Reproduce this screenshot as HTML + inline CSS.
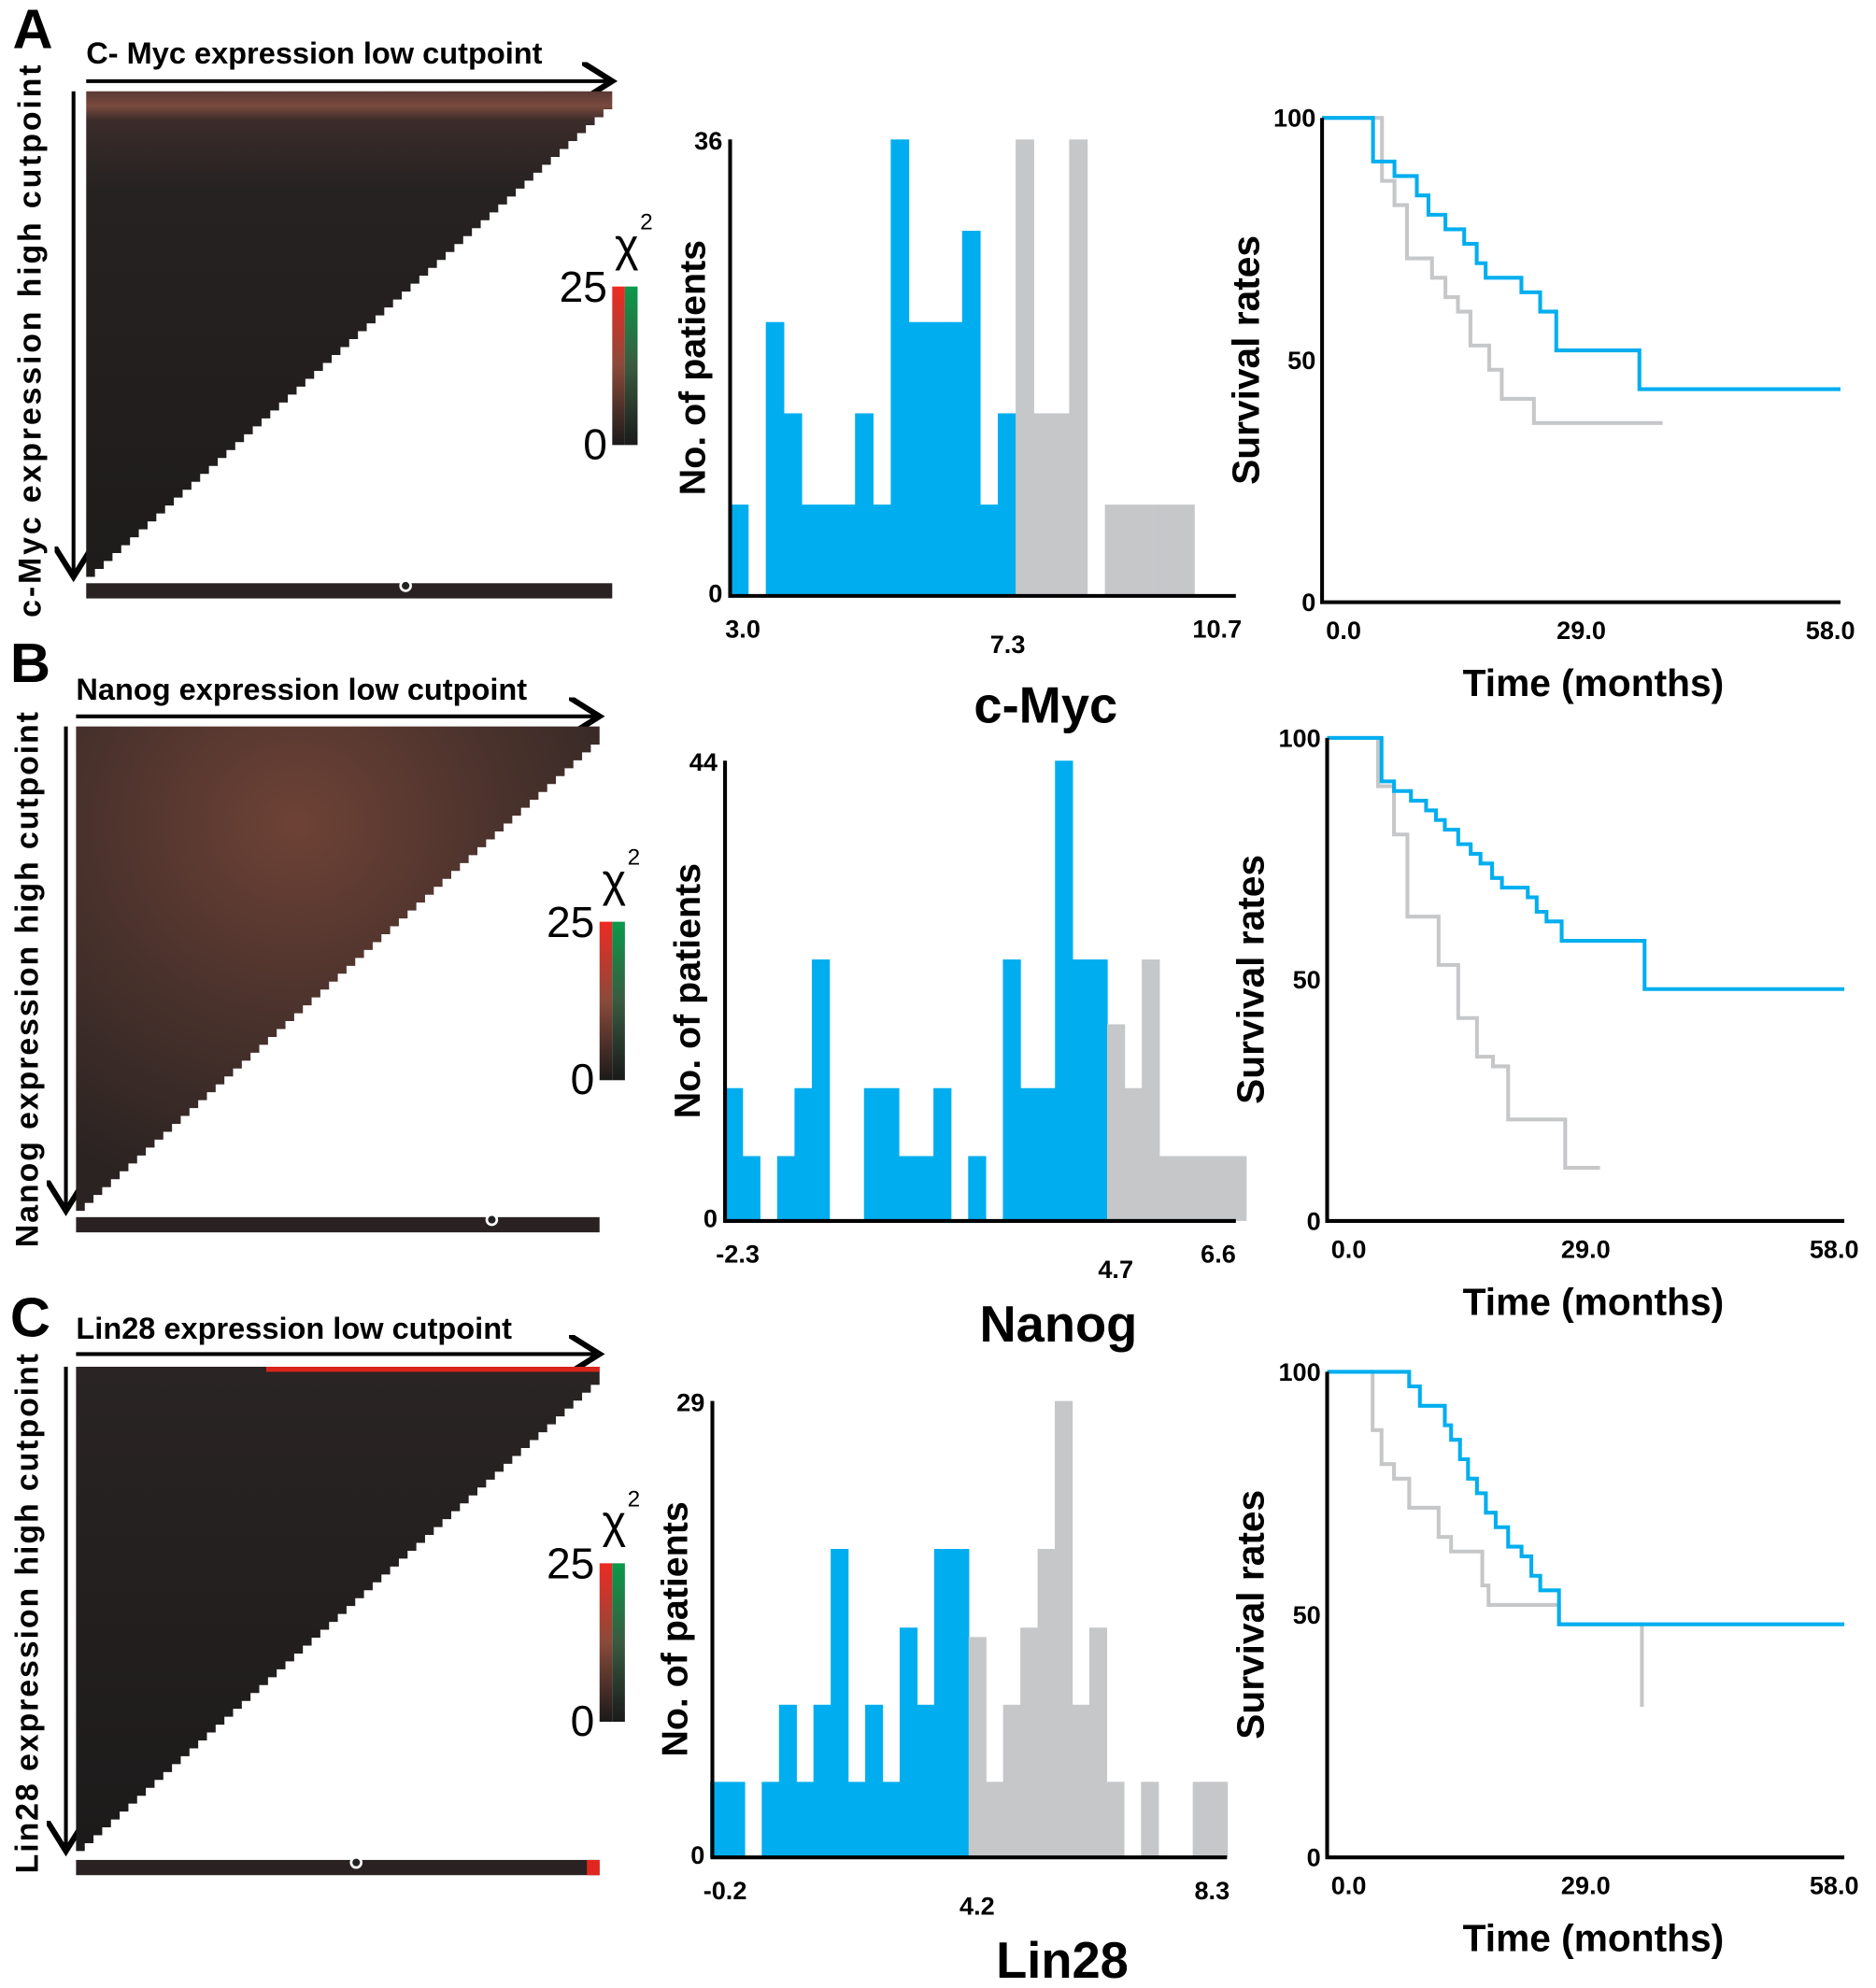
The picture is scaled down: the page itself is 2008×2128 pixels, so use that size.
<!DOCTYPE html>
<html><head><meta charset="utf-8"><style>
html,body{margin:0;padding:0;background:#fff;}
svg{display:block;}
text{font-family:"Liberation Sans",Arial,sans-serif;}
</style></head><body>
<svg id="fig" xmlns="http://www.w3.org/2000/svg" width="2008" height="2128" viewBox="0 0 1480 1568" preserveAspectRatio="none">
<defs>
<linearGradient id="gA" x1="0" y1="0" x2="0" y2="1"><stop offset="0" stop-color="#5a3a34"/><stop offset="0.03" stop-color="#7a4a3e"/><stop offset="0.06" stop-color="#3a2c2a"/><stop offset="0.2" stop-color="#272222"/><stop offset="1" stop-color="#1e1b1b"/></linearGradient>
<radialGradient id="gB" cx="0.42" cy="0.2" r="0.8"><stop offset="0" stop-color="#6e4236"/><stop offset="0.5" stop-color="#4a322c"/><stop offset="1" stop-color="#2a2322"/></radialGradient>
<linearGradient id="gC" x1="0" y1="0" x2="0" y2="1"><stop offset="0" stop-color="#2a2424"/><stop offset="1" stop-color="#1c1a1a"/></linearGradient>
<linearGradient id="cbR" x1="0" y1="0" x2="0" y2="1"><stop offset="0" stop-color="#ee2a24"/><stop offset="0.5" stop-color="#8a4a3a"/><stop offset="1" stop-color="#1a1a1a"/></linearGradient>
<linearGradient id="cbG" x1="0" y1="0" x2="0" y2="1"><stop offset="0" stop-color="#0a9a4a"/><stop offset="0.5" stop-color="#3a5a40"/><stop offset="1" stop-color="#1a1a1a"/></linearGradient>
<marker id="arr" markerWidth="10" markerHeight="10" refX="8" refY="5" orient="auto"><path d="M0,0 L8,5 L0,10" fill="none" stroke="#000" stroke-width="1.5"/></marker>
</defs>
<g id="static"></g>
</svg>
<script>
// ---------- DATA ----------
const histACounts=[7.2,0,21.6,14.4,7.2,7.2,7.2,14.4,7.2,36,21.6,21.6,21.6,28.8,7.2,14.4,36,14.4,14.4,36,0,7.2,7.2,7.2,7.2,7.2];
const histATicks=["3.0","7.3","10.7"];
const histATickVals=[3.0,7.3,10.7];
const histBCounts=[12.7,6.2,0,6.2,12.7,25,0,0,12.7,12.7,6.2,6.2,12.7,0,6.2,0,25,12.7,12.7,44,25,25,18.8,12.7,25,6.2,6.2,6.2,6.2,6.2];
const histBTicks=["-2.3","4.7","6.6"];
const histBTickVals=[-2.3,4.7,6.6];
const histCCounts=[4.8,4.8,0,4.8,9.7,4.8,9.7,19.6,4.8,9.7,4.8,14.6,9.7,19.6,19.6,14,4.8,9.7,14.6,19.6,29,9.7,14.6,4.8,0,4.8,0,0,4.8,4.8];
const histCTicks=["-0.2","4.2","8.3"];
const histCTickVals=[-0.2,4.2,8.3];
const kmABlueT=[0,5.7,8.1,10.6,11.9,13.8,15.9,17.3,18.3,22.3,24.4,26.2,35.5,58];
const kmABlueS=[100,91,88,84,80,77,74,70,67,64,60,52,44,44];
const kmAGrayT=[0,6.7,8.1,9.5,12.3,13.8,15.2,16.6,18.7,20.1,23.7,38.1];
const kmAGrayS=[100,87,82,71,67,63,60,53,48,42,37,37];
const kmBBlueT=[0,6.1,7.5,9.4,11.1,12.2,13.2,14.7,16.1,17.2,18.5,19.6,22.5,23.5,24.6,26.3,35.6,58];
const kmBBlueS=[100,91,89,87,85,83,81,78,76,74,71,69,67,64,62,58,48,48];
const kmBGrayT=[0,5.7,7.5,9.0,12.5,14.7,16.8,18.6,20.3,26.7,30.6];
const kmBGrayS=[100,90,80,63,53,42,34,32,21,11,11];
const kmCBlueT=[0,9.2,10.4,13.2,13.9,14.9,15.8,16.8,17.8,18.9,20.3,21.8,22.9,23.9,26.0,58];
const kmCBlueS=[100,97,93,89,86,82,78,75,71,68,64,62,58,55,48,48];
const kmCGrayT=[0,5.1,6.1,7.5,9.2,12.5,13.9,17.4,18.1,26.0,35.3];
const kmCGrayS=[100,88,81,78,72,66,63,56,52,48,31];
const kmTicks=["0.0","29.0","58.0"];

// ---------- HELPERS ----------
const NS="http://www.w3.org/2000/svg";
const root=document.getElementById('static');
function mk(tag,attrs,parent,txt){const e=document.createElementNS(NS,tag);for(const k in attrs)e.setAttribute(k,attrs[k]);if(txt!==undefined)e.textContent=txt;(parent||root).appendChild(e);return e;}
const BLUE="#00aeef",GRAY="#c5c7c9";

function heatPanel(p){
  const g=mk('g',{});
  
  
  const L=mk('text',{x:p.lx,y:p.ly,'font-size':44,'font-weight':'bold'},g,p.letter);
  
  
  const t=mk('text',{x:p.x0,y:p.ty,'font-size':24,'font-weight':'bold'},g,p.title);
  
  
  const ha=mk('line',{x1:p.x0,y1:p.ay,x2:p.x1,y2:p.ay,stroke:'#000','stroke-width':3,'marker-end':'url(#arr)'},g);
  
  
  const va=mk('line',{x1:p.vx,y1:p.y0,x2:p.vx,y2:p.y1,stroke:'#000','stroke-width':3,'marker-end':'url(#arr)'},g);
  
  
  const vl=mk('text',{transform:`translate(${p.vlx},${p.vcy}) rotate(-90)`,'font-size':25,'font-weight':'bold','text-anchor':'middle','letter-spacing':p.ls},g,p.vtitle);
  
  
  const n=60,dx=(p.x1-p.x0)/n,dy=(p.y1-p.y0-8)/n;
  let pts=[[p.x0,p.y0],[p.x1,p.y0]];
  for(let k=0;k<n;k++){const y=p.y0+8+k*dy;pts.push([p.x1-k*dx,y]);pts.push([p.x1-k*dx,y+dy]);pts.push([p.x1-(k+1)*dx,y+dy]);}
  pts.push([p.x0,p.y1]);
  const tri=mk('polygon',{points:pts.map(a=>a.join(',')).join(' '),fill:p.fill},g);
  
  
  if(p.redTop){const r=mk('rect',{x:p.x0+150,y:p.y0,width:p.x1-p.x0-150,height:4,fill:'#d8241c'},g);
    
    }
  const bb=mk('rect',{x:p.x0,y:p.by,width:p.x1-p.x0,height:12,fill:'#2a2222'},g);
  
  
  if(p.redEnd){const r2=mk('rect',{x:p.x1-10,y:p.by,width:10,height:12,fill:'#e0261e'},g);
    
    }
  const dot=mk('circle',{cx:p.dot,cy:p.by+2,r:4,fill:'#222',stroke:'#fff','stroke-width':2},g);
  
  
  const cr=mk('rect',{x:p.cbx,y:p.cby,width:10,height:125,fill:'url(#cbR)'},g);
  
  
  const cg=mk('rect',{x:p.cbx+10,y:p.cby,width:10,height:125,fill:'url(#cbG)'},g);
  
  
  const t25=mk('text',{x:p.cbx-4,y:p.cby+12,'font-size':34,'text-anchor':'end'},g,'25');
  
  
  const t0=mk('text',{x:p.cbx-4,y:p.cby+136,'font-size':34,'text-anchor':'end'},g,'0');
  
  
  const chi=mk('text',{x:p.cbx+2,y:p.cby-20,'font-size':36},g,'χ');
  
  
  mk('text',{x:p.cbx+22,y:p.cby-45,'font-size':18},g,'2');
}

function histPanel(p){
  const g=mk('g',{});
  
  
  const X=v=>p.px0+(v-p.v0)*p.k;
  const Y=c=>p.yb-c*(p.yb-p.yt)/p.ymax;
  p.counts.forEach((c,i)=>{
    const a=p.start+i*p.bw,b=a+p.bw;
    if(c<=0)return;
    const r=mk('rect',{x:X(a),y:Y(c),width:X(b)-X(a)+0.5,height:p.yb-Y(c),fill:((a+b)/2<p.cut)?BLUE:GRAY},g);
    
    
  });
  const ax=mk('path',{d:`M${p.ax},${p.yt} V${p.yb} H${p.axr}`,fill:'none',stroke:'#000','stroke-width':3},g);
  
  
  const yt=mk('text',{x:p.ax-6,y:p.yt+8,'font-size':20,'font-weight':'bold','text-anchor':'end'},g,String(p.ymax));
  
  
  const y0=mk('text',{x:p.ax-6,y:p.yb+5,'font-size':20,'font-weight':'bold','text-anchor':'end'},g,'0');
  
  
  p.ticks.forEach((t,i)=>{
    const tx=mk('text',{x:X(p.tickVals[i]),y:p.yb+(i===1?45:33),'font-size':20,'font-weight':'bold','text-anchor':'middle'},g,t);
    
    
  });
  const yl=mk('text',{transform:`translate(${p.ax-20},${(p.yt+p.yb)/2}) rotate(-90)`,'font-size':29,'font-weight':'bold','text-anchor':'middle'},g,'No. of patients');
  
  
  const xl=mk('text',{x:p.xlx,y:p.xly,'font-size':40,'font-weight':'bold','text-anchor':'middle'},g,p.xtitle);
  
  
}

function stepPath(T,S,X,Y){
  let d=`M${X(T[0])},${Y(S[0])}`;
  for(let i=1;i<T.length;i++){d+=` H${X(T[i])} V${Y(S[i])}`;}
  return d;
}
function kmPanel(p){
  const g=mk('g',{});
  
  
  const X=t=>p.x0+t*(p.x1-p.x0)/58;
  const Y=s=>p.yb-s*(p.yb-p.yt)/100;
  const gr=mk('path',{d:stepPath(p.gT,p.gS,X,Y),fill:'none',stroke:GRAY,'stroke-width':3},g);
  
  
  const bl=mk('path',{d:stepPath(p.bT,p.bS,X,Y),fill:'none',stroke:BLUE,'stroke-width':3},g);
  
  
  const ax=mk('path',{d:`M${p.x0},${p.yt} V${p.yb} H${p.x1}`,fill:'none',stroke:'#000','stroke-width':3},g);
  
  
  [100,50,0].forEach(v=>{
    const t=mk('text',{x:p.x0-5,y:Y(v)+7,'font-size':20,'font-weight':'bold','text-anchor':'end'},g,String(v));
    
    
  });
  [0,29,58].forEach((v,i)=>{
    const t=mk('text',{x:X(v)+(i===0?17:(i===2?-8:0)),y:p.yb+29,'font-size':20,'font-weight':'bold','text-anchor':'middle'},g,kmTicks[i]);
    
    
  });
  const yl=mk('text',{transform:`translate(${p.x0-50},${(p.yt+p.yb)/2}) rotate(-90)`,'font-size':30,'font-weight':'bold','text-anchor':'middle'},g,'Survival rates');
  
  
  const xl=mk('text',{x:1257,y:p.yb+74,'font-size':30,'font-weight':'bold','text-anchor':'middle'},g,'Time (months)');
  
  
}

// ---------- PANELS ----------
heatPanel({id:'a',letter:'A',lx:10,ly:38,title:'C- Myc expression low cutpoint',ty:50,x0:68,x1:483,ay:64,vx:58,vlx:32,vcy:268,y0:72,y1:455,vtitle:'c-Myc expression high cutpoint',ls:2.1,fill:'url(#gA)',by:460,dot:320,cbx:483,cby:226});
heatPanel({id:'b',letter:'B',lx:8,ly:538,title:'Nanog expression low cutpoint',ty:552,x0:60,x1:473,ay:565,vx:52,vlx:30,vcy:772,y0:573,y1:955,vtitle:'Nanog expression high cutpoint',ls:1.4,fill:'url(#gB)',by:960,dot:388,cbx:473,cby:727});
heatPanel({id:'c',letter:'C',lx:8,ly:1054,title:'Lin28 expression low cutpoint',ty:1056,x0:60,x1:473,ay:1068,vx:52,vlx:30,vcy:1272,y0:1078,y1:1460,vtitle:'Lin28 expression high cutpoint',ls:1.4,fill:'url(#gC)',by:1467,dot:281,cbx:473,cby:1233,redTop:true,redEnd:true});

histPanel({id:'a',counts:histACounts,ticks:histATicks,tickVals:histATickVals,px0:586,v0:3.0,k:48.6,start:2.794,bw:0.2897,cut:7.3,ax:576,axr:975,yt:110,yb:470,ymax:36,xtitle:'c-Myc',xlx:825,xly:570});
histPanel({id:'b',counts:histBCounts,ticks:histBTicks,tickVals:histBTickVals,px0:582,v0:-2.3,k:42.6,start:-2.535,bw:0.3216,cut:4.7,ax:572,axr:975,yt:600,yb:963,ymax:44,xtitle:'Nanog',xlx:835,xly:1058});
histPanel({id:'c',counts:histCCounts,ticks:histCTicks,tickVals:histCTickVals,px0:572,v0:-0.2,k:45.2,start:-0.4624,bw:0.3009,cut:4.2,ax:562,axr:968,yt:1105,yb:1465,ymax:29,xtitle:'Lin28',xlx:838,xly:1560});

kmPanel({id:'a',bT:kmABlueT,bS:kmABlueS,gT:kmAGrayT,gS:kmAGrayS,x0:1043,x1:1452,yt:93,yb:475});
kmPanel({id:'b',bT:kmBBlueT,bS:kmBBlueS,gT:kmBGrayT,gS:kmBGrayS,x0:1047,x1:1455,yt:582,yb:963});
kmPanel({id:'c',bT:kmCBlueT,bS:kmCBlueS,gT:kmCGrayT,gS:kmCGrayS,x0:1047,x1:1455,yt:1082,yb:1465});
</script>
</body></html>
